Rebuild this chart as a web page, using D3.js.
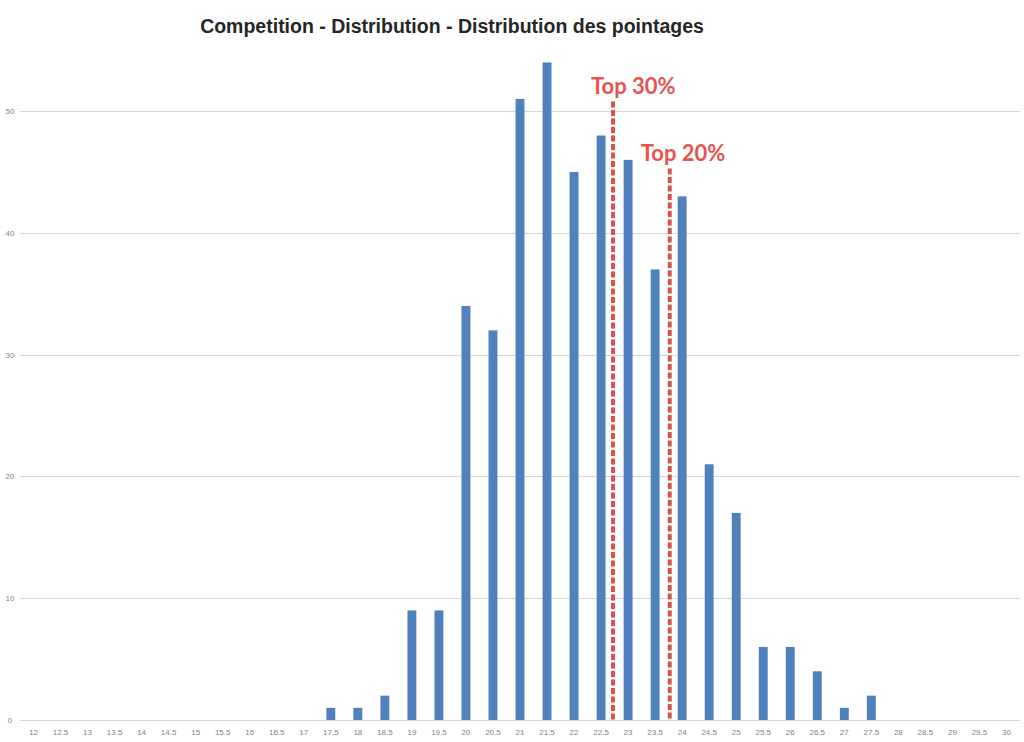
<!DOCTYPE html>
<html>
<head>
<meta charset="utf-8">
<script src="https://cdn.jsdelivr.net/npm/d3@7"></script>
<style>
    body { margin: 0; background: #fff; }
    svg { display: block; font-family: "Liberation Sans", Arial, sans-serif; }
    .grid line { stroke: #d9d9d9; stroke-width: 1; }
    .tick-label { fill: #7f7f7f; font-size: 8px; }
</style>
</head>
<body>
<div id="chart"></div>
<script>
// Score buckets and how many competitors fell in each
const scores = ["12", "12.5", "13", "13.5", "14", "14.5", "15", "15.5", "16", "16.5", "17", "17.5",
    "18", "18.5", "19", "19.5", "20", "20.5", "21", "21.5", "22", "22.5", "23", "23.5", "24",
    "24.5", "25", "25.5", "26", "26.5", "27", "27.5", "28", "28.5", "29", "29.5", "30"];
const counts = [0, 0, 0, 0, 0, 0, 0, 0, 0, 0, 0, 1,
    1, 2, 9, 9, 34, 32, 51, 54, 45, 48, 46, 37, 43,
    21, 17, 6, 6, 4, 1, 2, 0, 0, 0, 0, 0];
const yTicks = [0, 10, 20, 30, 40, 50];

// Cut-off markers (score value, label, height the line reaches)
const cutoffScores = [22.72, 23.77];
const cutoffLabels = ["Top 30%", "Top 20%"];
const cutoffTops = [50.8, 45.3];

const title = "Competition - Distribution - Distribution des pointages";

const width = 1024, height = 742;
const margin = { top: 60, right: 4, bottom: 22, left: 20 };
const innerW = width - margin.left - margin.right;
const innerH = height - margin.top - margin.bottom;

const svg = d3.select("#chart").append("svg")
    .attr("width", width)
    .attr("height", height);

const g = svg.append("g")
    .attr("transform", `translate(${margin.left},${margin.top})`);

// Scales
const x = d3.scaleBand().domain(scores).range([0, innerW]).paddingInner(0.67).paddingOuter(0.335);
const y = d3.scaleLinear().domain([0, 54.2]).range([innerH, 0]);

// Linear score -> pixel for the cut-off lines
const xNum = d3.scaleLinear()
    .domain([12, 30])
    .range([x("12") + x.bandwidth() / 2, x("30") + x.bandwidth() / 2]);

// Gridlines
g.append("g").attr("class", "grid")
    .selectAll("line")
    .data(yTicks)
    .join("line")
    .attr("x1", 0)
    .attr("x2", innerW)
    .attr("y1", d => Math.round(y(d)) + 0.5)
    .attr("y2", d => Math.round(y(d)) + 0.5);

// Y labels
g.append("g")
    .selectAll("text")
    .data(yTicks)
    .join("text")
    .attr("class", "tick-label")
    .attr("x", -10)
    .attr("y", d => y(d) + 3)
    .attr("text-anchor", "middle")
    .text(d => d);

// X labels
g.append("g")
    .selectAll("text")
    .data(scores)
    .join("text")
    .attr("class", "tick-label")
    .attr("x", d => x(d) + x.bandwidth() / 2)
    .attr("y", innerH + 15)
    .attr("text-anchor", "middle")
    .text(d => d);

// Bars
g.append("g")
    .selectAll("rect")
    .data(scores.map((s, i) => ({ score: s, count: counts[i] })))
    .join("rect")
    .attr("x", d => x(d.score))
    .attr("width", x.bandwidth())
    .attr("y", d => y(d.count))
    .attr("height", d => innerH - y(d.count))
    .attr("fill", "#4f81bd");

// Cut-off lines
const labelDx = [-22, -29]; // label start relative to its line
cutoffScores.forEach((s, i) => {
    const cx = xNum(s);
    g.append("line")
        .attr("x1", cx).attr("x2", cx)
        .attr("y1", y(cutoffTops[i]))
        .attr("y2", innerH)
        .attr("stroke", "#d9534f")
        .attr("stroke-width", 4)
        .attr("stroke-dasharray", "6,2.5");

    g.append("text")
        .attr("x", cx + labelDx[i])
        .attr("y", y(cutoffTops[i]) - 7)
        .attr("text-anchor", "start")
        .attr("fill", "#e8544d")
        .attr("font-family", "Lato, 'Open Sans', sans-serif")
        .attr("font-weight", "bold")
        .attr("font-size", "22px")
        .text(cutoffLabels[i]);
});

// Title
svg.append("text")
    .attr("x", 452)
    .attr("y", 33)
    .attr("text-anchor", "middle")
    .attr("fill", "#262626")
    .attr("font-weight", "bold")
    .attr("font-size", "19.5px")
    .text(title);
</script>
</body>
</html>
